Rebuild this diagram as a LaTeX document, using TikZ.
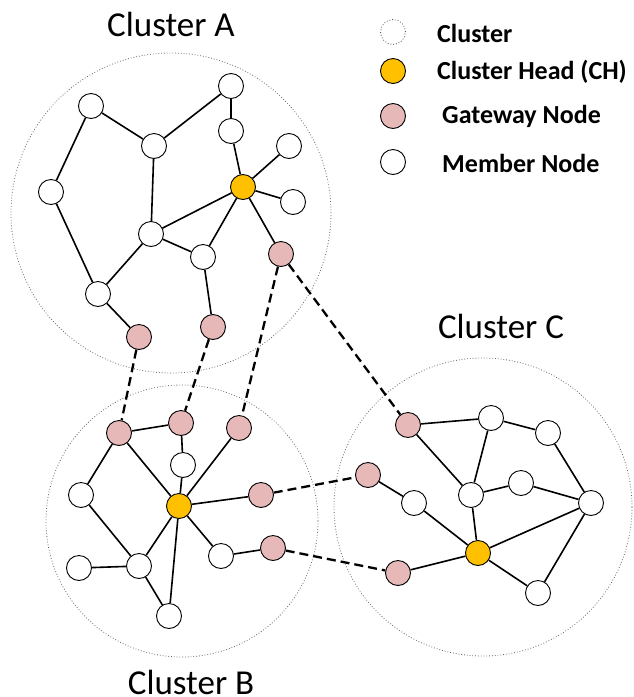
\documentclass[tikz,border=0pt]{standalone}
\usepackage{fontspec}
\setmainfont{Carlito}
\definecolor{chcol}{HTML}{FFC000}
\definecolor{gwcol}{HTML}{E6B9B8}
\begin{document}
\begin{tikzpicture}[x=1pt,y=-1pt,
  member/.style={circle,draw=black,fill=white,line width=0.9pt,minimum size=25pt,inner sep=0pt},
  head/.style={member,fill=chcol},
  gateway/.style={member,fill=gwcol},
  clusterc/.style={circle,draw=black!60,dotted,line width=0.8pt,inner sep=0pt},
  link/.style={line width=1.6pt},
  gwlink/.style={line width=2.3pt,dash pattern=on 9pt off 5pt},
  title/.style={font=\fontsize{35}{40}\selectfont,anchor=base,inner sep=0pt},
  legtext/.style={font=\fontsize{26}{30}\selectfont\bfseries,anchor=base west,inner sep=0pt}]
\useasboundingbox (0,0) rectangle (633,697);
% clusters
\node[clusterc,minimum size=320pt] (CA) at (171,213) {};
\node[clusterc,minimum size=272pt] (CB) at (182,521) {};
\node[clusterc,minimum size=298pt] (CC) at (483,507) {};
\node[title] (tA) at (171,36) {Cluster A};
\node[title] (tB) at (191,694) {Cluster B};
\node[title] (tC) at (501,338) {Cluster C};
% cluster A
\node[member] (a1) at (91,106) {};
\node[member] (a2) at (231,86) {};
\node[member] (a3) at (231,131) {};
\node[member] (a4) at (154,146) {};
\node[member] (a5) at (51,192) {};
\node[member] (a6) at (289,146) {};
\node[head] (hA) at (243,187) {};
\node[member] (a7) at (293,202) {};
\node[member] (a8) at (151,234) {};
\node[member] (a9) at (203,257) {};
\node[gateway] (a10) at (281,254) {};
\node[member] (a11) at (98,294) {};
\node[gateway] (a12) at (139,337) {};
\node[gateway] (a13) at (213,327) {};
\draw[link] (a1)--(a5) (a1)--(a4) (a4)--(a2) (a2)--(a3) (a3)--(hA) (a6)--(hA)
  (hA)--(a7) (hA)--(a8) (a4)--(a8) (hA)--(a9) (hA)--(a10) (a8)--(a9)
  (a8)--(a11) (a5)--(a11) (a11)--(a12) (a9)--(a13);
% cluster B
\node[gateway] (b1) at (119,433) {};
\node[gateway] (b2) at (181,423) {};
\node[gateway] (b3) at (239,428) {};
\node[member] (b4) at (183,465) {};
\node[member] (b5) at (81,495) {};
\node[head] (hB) at (179,506) {};
\node[gateway] (b6) at (261,495) {};
\node[member] (b7) at (221,556) {};
\node[gateway] (b8) at (273,548) {};
\node[member] (b9) at (79,568) {};
\node[member] (b10) at (139,566) {};
\node[member] (b11) at (169,616) {};
\draw[link] (b1)--(b2) (b1)--(hB) (b2)--(b4) (b4)--(hB) (b3)--(hB) (b1)--(b5)
  (b5)--(b10) (b9)--(b10) (b10)--(hB) (b10)--(b11) (hB)--(b11) (hB)--(b6)
  (hB)--(b7) (b7)--(b8);
% cluster C
\node[gateway] (c1) at (408,425) {};
\node[member] (c2) at (491,418) {};
\node[member] (c3) at (548,433) {};
\node[gateway] (c4) at (368,475) {};
\node[member] (c5) at (414,503) {};
\node[member] (c6) at (471,495) {};
\node[member] (c7) at (521,483) {};
\node[member] (c8) at (591,503) {};
\node[head] (hC) at (478,553) {};
\node[gateway] (c9) at (398,573) {};
\node[member] (c10) at (538,593) {};
\draw[link] (c1)--(c2) (c2)--(c3) (c3)--(c8) (c1)--(c6) (c2)--(c6) (c6)--(c7)
  (c7)--(c8) (c4)--(c5) (c5)--(hC) (c6)--(hC) (hC)--(c8) (hC)--(c10)
  (c10)--(c8) (c9)--(hC);
% gateway links
\draw[gwlink] (a12)--(b1) (a13)--(b2) (a10)--(b3) (a10)--(c1) (b6)--(c4) (b8)--(c9);
% legend
\node[clusterc,draw=black!70,fill=white,minimum size=25pt] (l1) at (393,32) {};
\node[head] (l2) at (393,71) {};
\node[gateway] (l3) at (393,116) {};
\node[member] (l4) at (393,162) {};
\node[legtext] (lt1) at (437,42) {Cluster};
\node[legtext] (lt2) at (437,79) {Cluster Head (CH)};
\node[legtext] (lt3) at (442,123) {Gateway Node};
\node[legtext] (lt4) at (442,172) {Member Node};
\end{tikzpicture}
\end{document}
